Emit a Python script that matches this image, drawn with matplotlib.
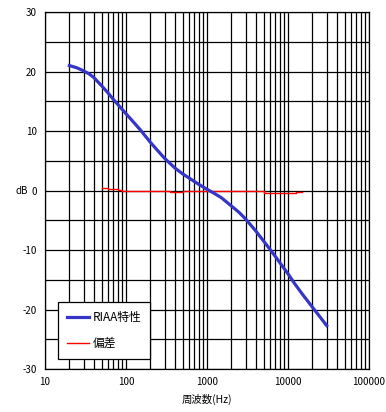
import numpy as np
import matplotlib
matplotlib.use("Agg")
import matplotlib.pyplot as plt
from matplotlib.ticker import LogLocator, FixedLocator, NullFormatter

plt.rcParams["font.family"] = ["Noto Sans CJK JP", "DejaVu Sans"]
plt.rcParams["axes.unicode_minus"] = False

# RIAA curve
riaa_freq = [20, 25, 30, 35, 40, 50, 60, 70, 80, 100, 120, 150, 200, 250,
             300, 400, 500, 600, 700, 800, 1000, 1200, 1500, 2000, 2500,
             3000, 4000, 5000, 6000, 7000, 8000, 10000, 12000, 15000,
             20000, 25000, 30000]
riaa_db = [21.0, 20.6, 20.1, 19.6, 19.0, 17.6, 16.4, 15.3, 14.4, 12.9, 11.7,
           10.2, 8.1, 6.6, 5.4, 3.8, 2.8, 2.1, 1.5, 1.0, 0.2, -0.4, -1.2,
           -2.6, -3.7, -4.8, -6.8, -8.5, -9.9, -11.1, -12.2, -14.0, -15.6,
           -17.4, -19.6, -21.3, -22.7]

# deviation (step line)
dev_freq = [50, 60, 80, 90, 350, 500, 3500, 5000, 12500, 15000]
dev_db = [0.5, 0.3, 0.15, 0.0, -0.2, 0.0, -0.15, -0.35, -0.2, -0.2]

x_ticks = [10, 100, 1000, 10000, 100000]
x_labels = ["10", "100", "1000", "10000", "100000"]
y_ticks = [30, 20, 10, 0, -10, -20, -30]

fig = plt.figure(figsize=(3.86, 4.12), dpi=100)
ax = fig.add_axes([45 / 386, 1 - 369 / 412, 324 / 386, 357 / 412])

ax.set_xscale("log")
ax.set_xlim(10, 100000)
ax.set_ylim(-30, 30)

ax.xaxis.set_major_locator(FixedLocator(x_ticks))
ax.set_xticklabels(x_labels)
ax.xaxis.set_minor_locator(LogLocator(base=10, subs=np.arange(2, 10)))
ax.xaxis.set_minor_formatter(NullFormatter())
ax.yaxis.set_major_locator(FixedLocator(y_ticks))
ax.yaxis.set_minor_locator(FixedLocator([25, 15, 5, -5, -15, -25]))

ax.grid(True, which="both", color="black", linewidth=0.9)
ax.tick_params(which="both", length=0, labelsize=7, pad=6)
for s in ax.spines.values():
    s.set_color("black")
    s.set_linewidth(0.9)

ax.step(dev_freq, dev_db, where="post", color="red", linewidth=1.0,
        label="偏差", zorder=3)
ax.plot(riaa_freq, riaa_db, color="#3535c8", linewidth=2.3,
        label="RIAA特性", zorder=4)

handles, labels = ax.get_legend_handles_labels()
leg = ax.legend(handles[::-1], labels[::-1], loc="upper left",
                bbox_to_anchor=(0.04, 0.188), fontsize=8.5, frameon=True,
                fancybox=False, edgecolor="black", framealpha=1,
                borderaxespad=0, labelspacing=1.1, handlelength=1.9,
                borderpad=0.75, handletextpad=0.3)
leg.get_frame().set_linewidth(0.9)

ax.set_xlabel("周波数(Hz)", fontsize=7.5, labelpad=5)
fig.text(15 / 386, 1 - 191 / 412, "dB", fontsize=7, ha="left", va="center")

fig.savefig("out.png", dpi=100)
